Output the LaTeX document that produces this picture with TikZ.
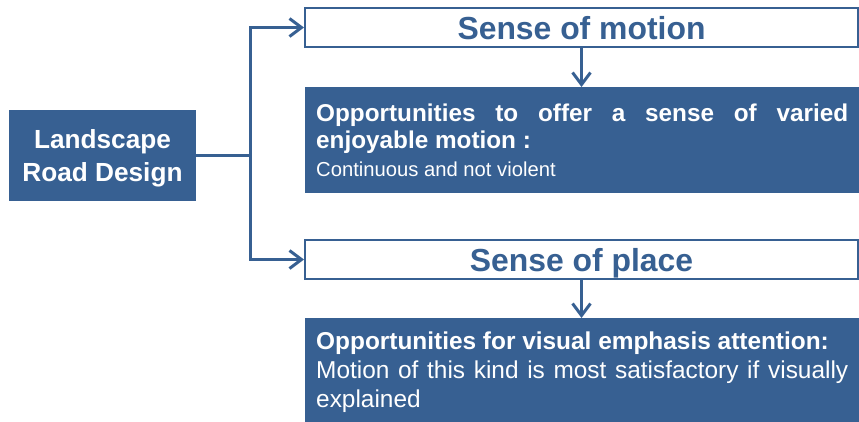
\documentclass[tikz,border=0pt]{standalone}
\usepackage{fontspec}
\setmainfont{Liberation Sans}
\usetikzlibrary{arrows.meta}
\definecolor{roadblue}{RGB}{55,96,146}
\tikzset{
  mainbox/.style={fill=roadblue, text=white, align=center, inner sep=0pt,
    font=\bfseries\fontsize{26.3}{33}\selectfont,
    minimum width=187bp, minimum height=91bp, text depth=0pt},
  headbox/.style={draw=roadblue, line width=2bp, fill=white, text=roadblue, inner sep=0pt,
    font=\bfseries\fontsize{32}{38}\selectfont,
    minimum width=553bp, minimum height=39bp, text height=24bp, text depth=0pt},
  textbox/.style={fill=roadblue, text=white, anchor=north west, align=justify,
    text width=532bp, inner xsep=11bp, inner ysep=0pt, minimum width=554bp},
  link/.style={draw=roadblue, line width=3bp, -{Straight Barb[length=12bp,width=18bp]}}
}
\begin{document}
\begin{tikzpicture}[x=1bp,y=-1bp]
  \useasboundingbox (0,0) rectangle (859,421);
  \clip (0,0) rectangle (859,421);
  \node[mainbox] (land) at (102.5,155.5) {Landscape\\Road Design};
  \node[headbox] (motion) at (581.5,27.5) {Sense of motion};
  \node[headbox] (place) at (581.5,259.5) {Sense of place};
  \node[textbox, minimum height=106bp,
    font={\hyphenpenalty=10000\fontsize{24.4}{28}\selectfont}] (motiontext) at (305,87)
    {{\bfseries Opportunities to offer a sense of varied enjoyable motion :}\\
     {\fontsize{20.3}{28}\selectfont Continuous and not violent}};
  \node[textbox, minimum height=108bp,
    font={\hyphenpenalty=10000\fontsize{24.5}{29.5}\selectfont}] (placetext) at (305,318)
    {{\bfseries Opportunities for visual emphasis attention:}\\
     Motion of this kind is most satisfactory if visually explained};
  \coordinate (fork) at (250,155.5);
  \begin{scope}[link]
    \draw[-] (land.east) -- (fork);
    \draw (fork) |- (motion.west);
    \draw (fork) |- (place.west);
    \draw (motion.south) -- (motion.south |- motiontext.north);
    \draw (place.south) -- (place.south |- placetext.north);
  \end{scope}
\end{tikzpicture}
\end{document}
